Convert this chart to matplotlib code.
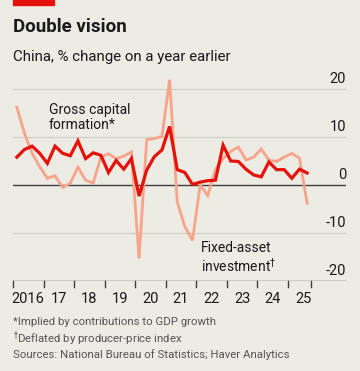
import numpy as np
import matplotlib
matplotlib.use('Agg')
import matplotlib.pyplot as plt

# ── Data (quarterly, % change on a year earlier) ─────────────────────
QUARTERS = [(y, q) for y in range(2016, 2026) for q in range(1, 5)][:39]

gross_capital = [5.8, 7.4, 8.1, 6.6, 4.5, 8.1, 6.6, 6.1,
                 9.2, 5.5, 6.7, 6.2, 2.6, 5.1, 3.3, 5.5,
                 -2.3, 3.1, 5.9, 7.3, 12.2, 3.2, 2.6, 0.1,
                 0.6, 0.9, 1.0, 8.3, 5.0, 4.9, 3.3, 2.1,
                 1.7, 4.8, 3.2, 3.2, 1.4, 3.3, 2.5]

fixed_asset = [16.2, 10.8, 6.6, 3.8, 1.4, 1.9, -0.5, 0.4,
               3.7, 1.0, 0.4, 5.8, 6.5, 5.5, 6.0, 6.9,
               -15.3, 9.4, 9.7, 10.1, 21.9, -3.5, -8.7, -11.5,
               0.0, -2.2, 3.2, 5.5, 7.0, 7.9, 5.2, 5.8,
               7.5, 5.2, 4.9, 5.8, 6.6, 5.6, -3.8]

year_labels = ['2016', '17', '18', '19', '20', '21', '22', '23', '24', '25']
y_ticks = [20, 10, 0, -10, -20]

# ── Style ───────────────────────────────────────────────────────────
BG       = '#ecebe4'
RED      = '#e5120b'
SALMON   = '#f8a48b'
GRID     = '#cfcdc6'
DARK     = '#3f3f3f'
TEXT     = '#1a1a1a'
GREY_TXT = '#555555'

plt.rcParams['font.family'] = ['Roboto', 'DejaVu Sans']

W, H = 360, 371
fig = plt.figure(figsize=(W / 100, H / 100), dpi=100, facecolor=BG)

# axes placed in pixel terms: x 13..346, y(top) 74.6..281
X0, X1 = 13, 346
YT, YB = 74.6, 281
ax = fig.add_axes([X0 / W, 1 - YB / H, (X1 - X0) / W, (YB - YT) / H])
ax.set_facecolor(BG)

PX_PER_YR = (288 - 13) / 9
x_end = 2016 + (X1 - X0) / PX_PER_YR
ax.set_xlim(2016, x_end)
ax.set_ylim(-20, 23)

xs = np.array([y + (q - 0.5) / 4 for y, q in QUARTERS])

# gridlines, with labels sitting on them at the right
for v in y_ticks:
    dark = v in (0, -20)
    ax.axhline(v, color=DARK if dark else GRID, lw=1.0 if dark else 0.9,
               zorder=1)
    ax.text(x_end, v + 0.7, f'{v}', ha='right', va='bottom',
            fontsize=10.5, color=TEXT, zorder=5)

ax.plot(xs, fixed_asset, color=SALMON, lw=2.0, zorder=2,
        solid_joinstyle='miter')
ax.plot(xs, gross_capital, color=RED, lw=2.3, zorder=3,
        solid_joinstyle='miter')

for s in ax.spines.values():
    s.set_visible(False)
ax.set_xticks([])
ax.set_yticks([])

# x ticks: year boundaries plus end of data
tick_pos = list(range(2016, 2026)) + [2025.75]
for t in tick_pos:
    ax.plot([t, t], [-20, -21.3], color=DARK, lw=1.0, clip_on=False)
for i, lab in enumerate(year_labels):
    ax.text(2016 + i + 0.5, -22.3, lab, ha='center', va='top',
            fontsize=10.5, color=TEXT, clip_on=False)

# series labels
ax.text(2017.17, 17.0, 'Gross capital\nformation*', ha='left', va='top',
        fontsize=10, color=TEXT, linespacing=1.1)
ax.text(2022.15, -11.7, 'Fixed-asset\ninvestment$^{\\dagger}$', ha='left',
        va='top', fontsize=10, color=TEXT, linespacing=1.1)

# ── Header ──────────────────────────────────────────────────────────
fig.patches.append(plt.Rectangle((13 / W, 1 - 5 / H), 41 / W, 5 / H,
                                 transform=fig.transFigure, color=RED))
fig.text(13 / W, 1 - 27.5 / H, 'Double vision', ha='left', va='center',
         fontsize=13.5, fontweight='bold', color=TEXT)
fig.text(13 / W, 1 - 57.5 / H, 'China, % change on a year earlier', ha='left',
         va='center', fontsize=10.8, color=TEXT)

# ── Footnotes ───────────────────────────────────────────────────────
notes = ['*Implied by contributions to GDP growth',
         '$^{\\dagger}$Deflated by producer-price index',
         'Sources: National Bureau of Statistics; Haver Analytics']
for i, n in enumerate(notes):
    fig.text(13 / W, 1 - (322 + 16.5 * i) / H, n, ha='left', va='center',
             fontsize=8.2, color=GREY_TXT)

fig.savefig('out.png', dpi=100, facecolor=BG)
